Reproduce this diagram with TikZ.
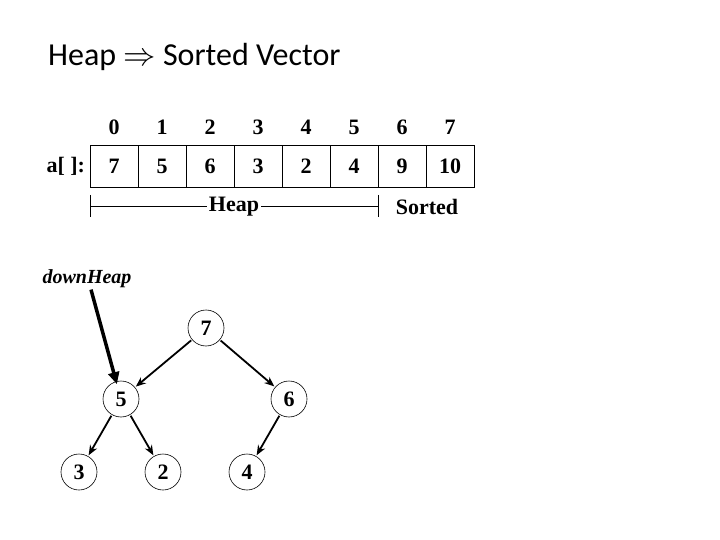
\documentclass[tikz,border=0pt]{standalone}
\usepackage{fontspec}
\setmainfont{Liberation Serif}
\newfontfamily\titlefont{Carlito}
\usepackage{tikz}
\usetikzlibrary{arrows.meta, positioning, calc}

\begin{document}
\begin{tikzpicture}[x=1pt, y=-1pt,
  cellbox/.style={draw, line width=0.8pt, minimum width=48pt, minimum height=42pt, inner sep=0pt, font=\fontsize{22}{24}\selectfont\bfseries},
  idx/.style={font=\fontsize{22}{24}\selectfont\bfseries},
  treenode/.style={draw, circle, line width=0.6pt, minimum size=36pt, inner sep=0pt, font=\fontsize{22}{24}\selectfont\bfseries},
  treeedge/.style={line width=1.8pt, -{Stealth[length=10pt, width=8pt]}, shorten <=1pt, shorten >=1pt}]
  \useasboundingbox (0,0) rectangle (720,540);
  % title
  \node[anchor=west, inner sep=0pt, font=\titlefont\fontsize{32}{34}\selectfont] (title) at (48,57) {Heap \scalebox{1.3}{$\Rightarrow$} Sorted Vector};
  % array
  \foreach \v [count=\i from 0] in {7,5,6,3,2,4,9,10} {
    \node[cellbox] (c\i) at (114+48*\i,166) {\v};
    \node[idx] (i\i) at (114+48*\i,127) {\i};
  }
  \node[idx, left=1pt of c0] (aname) {a[\ ]:};
  % heap / sorted
  \coordinate (hl) at (90,206);
  \coordinate (hr) at (378,206);
  \draw[line width=0.6pt] ($(hl)+(0,-11)$) -- ($(hl)+(0,11)$);
  \draw[line width=0.6pt] ($(hr)+(0,-11)$) -- ($(hr)+(0,11)$);
  \node[idx, inner sep=2pt] (heap) at ($(hl)!0.5!(hr)+(0,1)$) {Heap};
  \draw[line width=0.6pt] (hl) -- (heap.west |- hl);
  \draw[line width=0.6pt] (heap.east |- hr) -- (hr);
  \node[idx] (sorted) at (427,207) {Sorted};
  % tree
  \node[treenode] (n7) at (206,328) {7};
  \node[treenode] (n5) at (121,399) {5};
  \node[treenode] (n6) at (289,399) {6};
  \node[treenode] (n3) at (79,472) {3};
  \node[treenode] (n2) at (163,472) {2};
  \node[treenode] (n4) at (247,472) {4};
  \draw[treeedge] (n7) -- (n5);
  \draw[treeedge] (n7) -- (n6);
  \draw[treeedge] (n5) -- (n3);
  \draw[treeedge] (n5) -- (n2);
  \draw[treeedge] (n6) -- (n4);
  % downHeap
  \node[font=\fontsize{20}{22}\selectfont\bfseries\itshape] (dh) at (87,279) {downHeap};
  \draw[line width=3.5pt, -{Triangle[length=12pt, width=11pt]}] ([xshift=4pt, yshift=2pt]dh.south) -- ([yshift=-3pt]n5.103);
\end{tikzpicture}
\end{document}
